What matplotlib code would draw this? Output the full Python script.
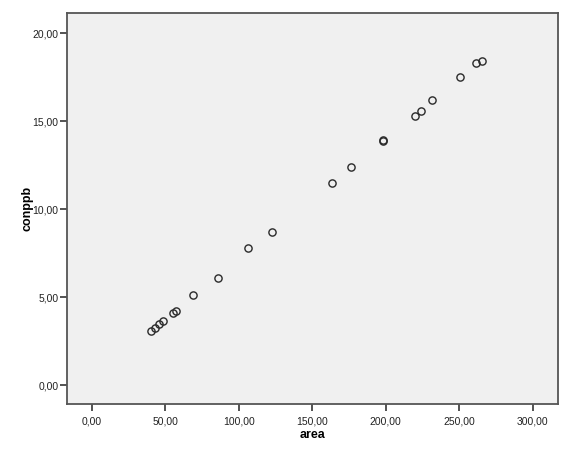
import matplotlib
matplotlib.use("Agg")
import matplotlib.pyplot as plt
from matplotlib.ticker import FuncFormatter

area = [40.5, 43.0, 45.9, 48.6, 55.0, 57.5, 69.1, 85.9, 106.1, 122.4,
        163.2, 176.6, 198.1, 198.3, 220.1, 224.0, 231.7, 250.3, 261.2, 265.5]
conppb = [3.10, 3.27, 3.46, 3.67, 4.12, 4.22, 5.11, 6.11, 7.81, 8.70,
          11.50, 12.41, 13.91, 13.89, 15.31, 15.61, 16.21, 17.50, 18.31, 18.41]
x_ticks = [0, 50, 100, 150, 200, 250, 300]
y_ticks = [0, 5, 10, 15, 20]

plt.rcParams['font.family'] = ['Liberation Sans', 'DejaVu Sans']

fig = plt.figure(figsize=(5.71, 4.57), dpi=100)
ax = fig.add_axes([0.1173, 0.1153, 0.8594, 0.8563])
ax.set_facecolor('#F0F0F0')

ax.plot(area, conppb, linestyle='none', marker='o', markersize=5.2,
        markerfacecolor='none', markeredgecolor='#2a2a2a', markeredgewidth=1.0)

ax.set_xlim(-17, 317)
ax.set_ylim(-1.08, 21.15)
ax.set_xticks(x_ticks)
ax.set_yticks(y_ticks)
fmt = FuncFormatter(lambda v, p: f"{v:.2f}".replace('.', ','))
ax.xaxis.set_major_formatter(fmt)
ax.yaxis.set_major_formatter(fmt)

for s in ax.spines.values():
    s.set_color('#555555')
    s.set_linewidth(1.3)
ax.tick_params(axis='both', direction='out', length=5, width=1.3, color='#444444',
               labelsize=7.5, labelcolor='#222222')
ax.tick_params(axis='y', pad=1)
ax.tick_params(axis='x', pad=4)

ax.set_xlabel('area', fontsize=9, fontweight='bold')
ax.set_ylabel('conppb', fontsize=9, fontweight='bold')
ax.xaxis.set_label_coords(0.5, -0.0785)
ax.yaxis.set_label_coords(-0.0795, 0.5)
ax.xaxis.label.set_va('center')
ax.yaxis.label.set_va('center')

fig.savefig('out.png', dpi=100)
